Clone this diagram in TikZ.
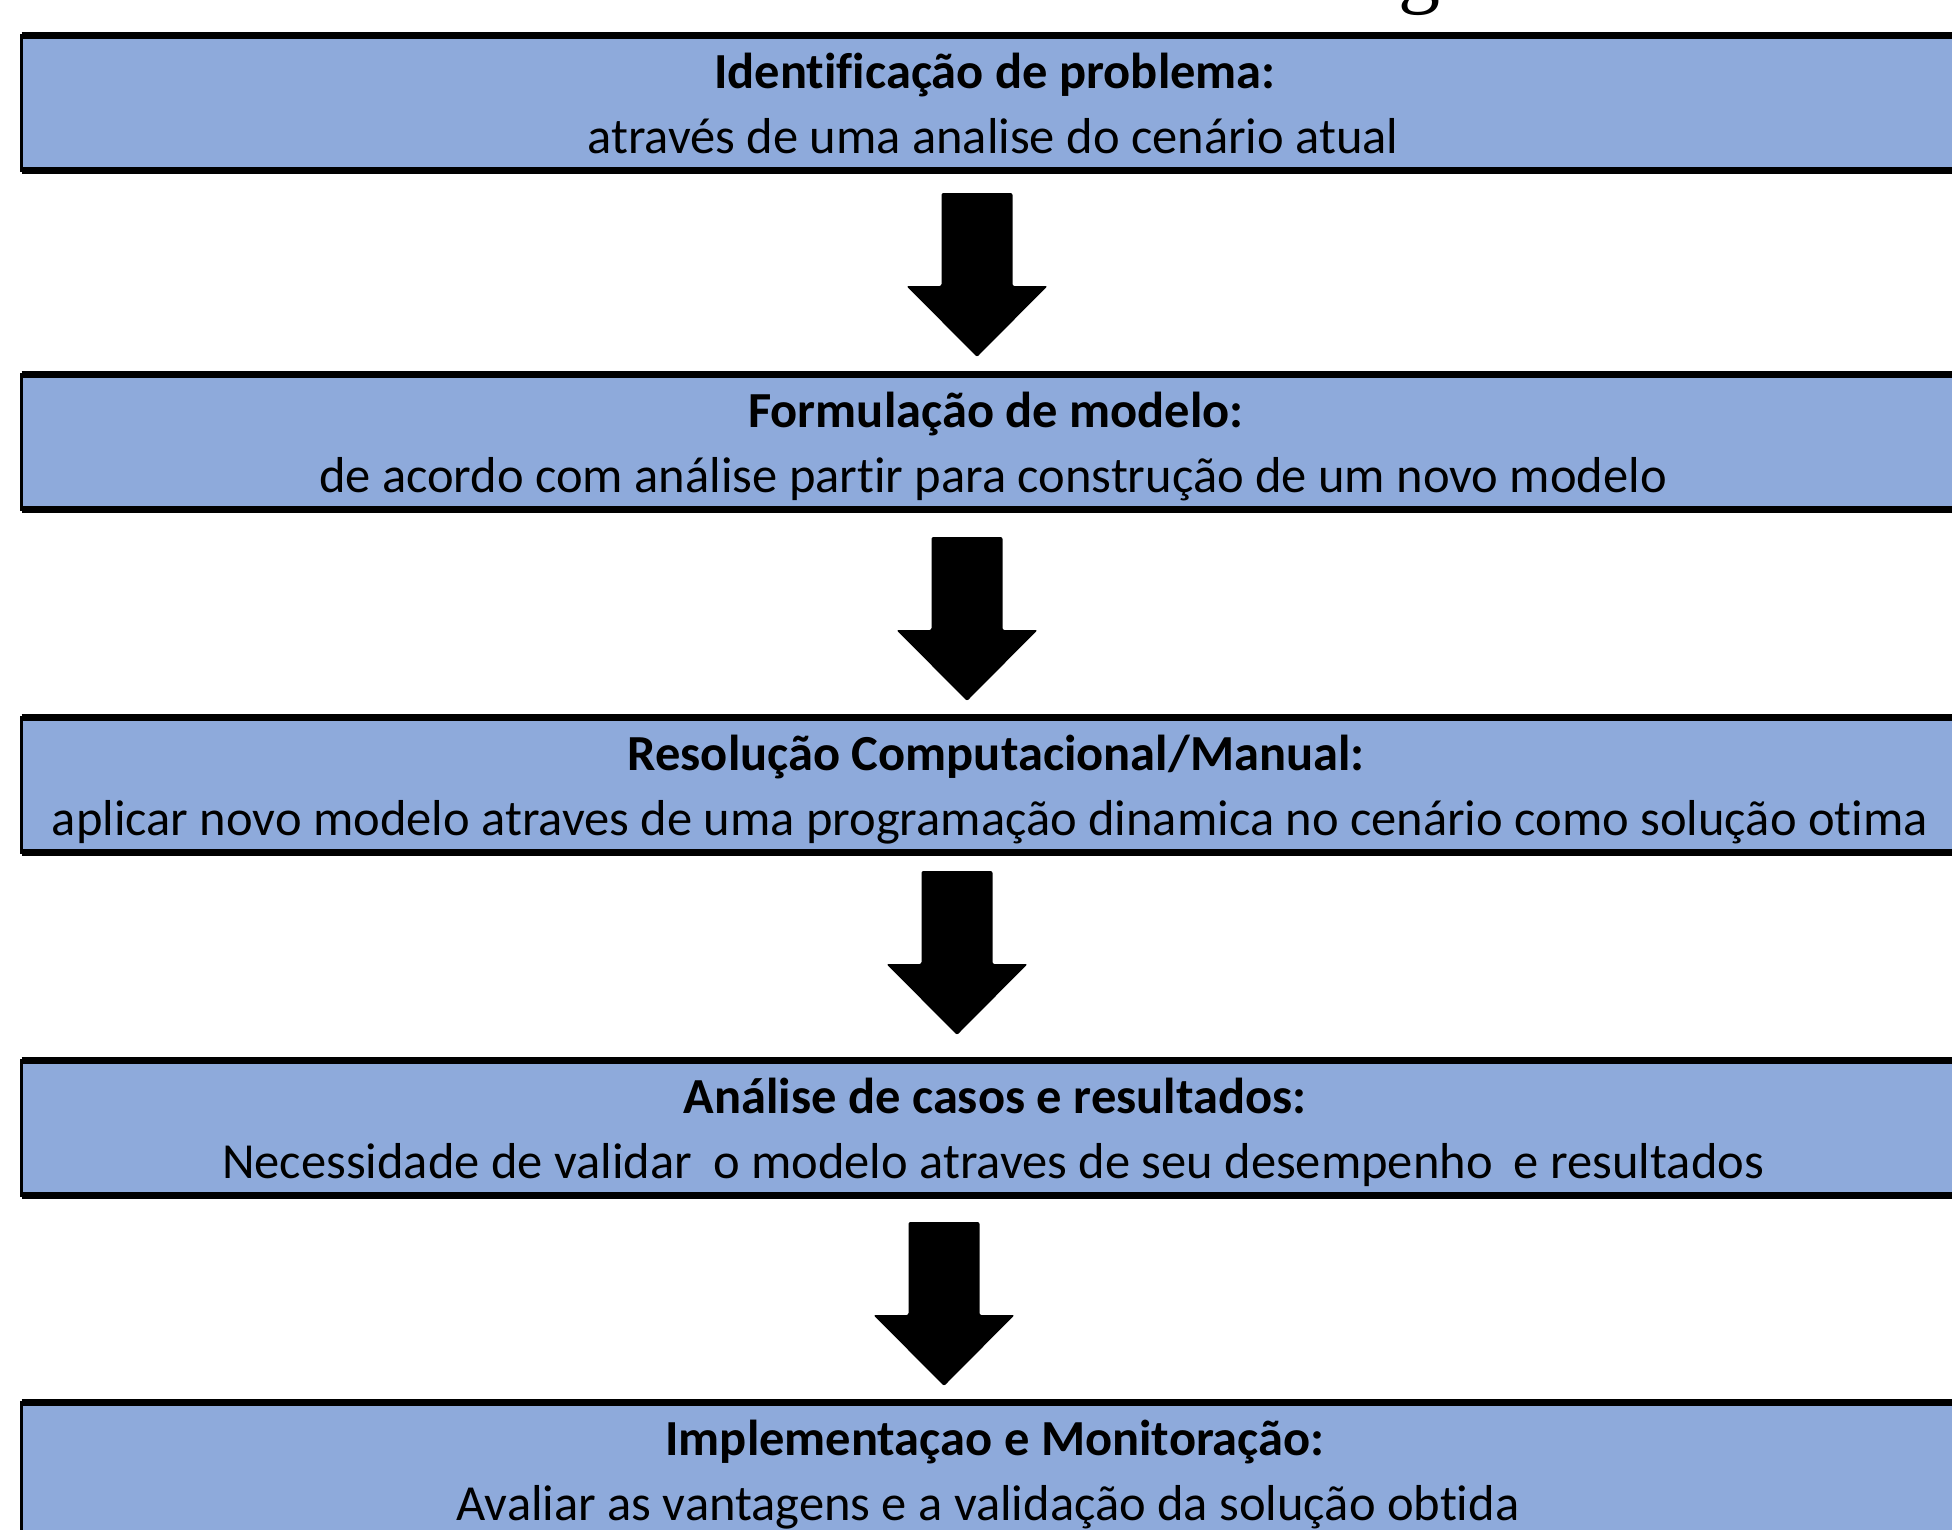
\documentclass[tikz,border=0pt]{standalone}
\usepackage{fontspec}
\setmainfont[Ligatures={NoCommon}]{Carlito}
\newfontfamily\titleserif{Liberation Serif}
\definecolor{boxblue}{HTML}{8EAADB}
\tikzset{
  x=1pt, y=-1pt,
  stepbox/.style={rectangle, fill=boxblue, draw=black, line width=3pt,
    minimum width=1943pt, minimum height=135pt, inner sep=0pt, outer sep=0pt},
  edgeline/.style={line width=7pt, line cap=butt},
  headtext/.style={anchor=base, inner sep=0pt, font=\fontsize{50.5}{60}\selectfont\bfseries},
  bodytext/.style={anchor=base, inner sep=0pt, font=\fontsize{50.5}{60}\selectfont},
  blockarrow/.pic={
    \fill[black, rounded corners=2pt]
      (-35.5,-164) -- (-35.5,-71) -- (-70.5,-71) -- (0,0) -- (70.5,-71)
      -- (35.5,-71) -- (35.5,-164) -- cycle;
  }
}
\newcommand{\dblsp}{\hspace{0.42em}}
\begin{document}
\begin{tikzpicture}
\useasboundingbox (0,0) rectangle (1952,1529);
\clip (0,0) rectangle (1952,1529);
% partial title letter at top
\node[anchor=base west, inner sep=0pt, font=\titleserif\fontsize{84}{90}\selectfont] (ttl) at (1398,-3) {g};
% boxes
\foreach \i/\t in {1/32, 2/371, 3/714, 4/1057, 5/1399} {
  \node[stepbox] (b\i) at (993,\t+71) {};
  \draw[edgeline] (b\i.north west) -- (b\i.north east);
  \draw[edgeline] (b\i.south west) -- (b\i.south east);
}
% texts
\node[headtext] (h1) at (995,32+56) {Identificação de problema:};
\node[bodytext] (s1) at (993,32+121) {através de uma analise do cenário atual};
\node[headtext] (h2) at (996,371+56) {Formulação de modelo:};
\node[bodytext] (s2) at (993,371+121) {de acordo com análise partir para construção de um novo modelo};
\node[headtext] (h3) at (996,714+56) {Resolução Computacional/Manual:};
\node[bodytext] (s3) at (990,714+121) {aplicar novo modelo atraves de uma programação dinamica no cenário como solução otima};
\node[headtext] (h4) at (995,1057+56) {Análise de casos e resultados:};
\node[bodytext] (s4) at (993,1057+121) {Necessidade de validar\dblsp o modelo atraves de seu desempenho\dblsp e resultados};
\node[headtext] (h5) at (995,1399+56) {Implementaçao e Monitoração:};
\node[bodytext] (s5) at (988,1399+121) {Avaliar as vantagens e a validação da solução obtida};
% arrows between boxes
\coordinate (t1) at (977,357);
\coordinate (t2) at (967,701);
\coordinate (t3) at (957,1035);
\coordinate (t4) at (944,1386);
\pic at (t1) {blockarrow};
\pic at (t2) {blockarrow};
\pic at (t3) {blockarrow};
\pic at (t4) {blockarrow};
\end{tikzpicture}
\end{document}
